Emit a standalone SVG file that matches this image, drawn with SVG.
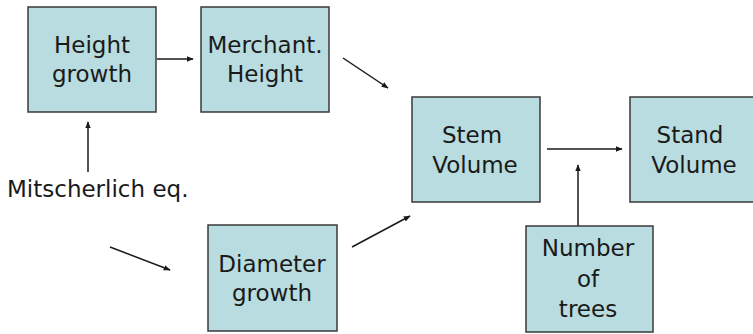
<svg xmlns="http://www.w3.org/2000/svg" width="753" height="334" viewBox="0 0 753 334">
<style>
.box{fill:#b8dcdf;stroke:#3a3a3a;stroke-width:1.5}
.t{font-family:"DejaVu Sans","Verdana",sans-serif;font-size:23px;fill:#1a1a1a;text-anchor:middle}
.c{stroke:#1a1a1a;stroke-width:1.5;fill:none;marker-end:url(#ah)}
</style>
<defs>
<marker id="ah" viewBox="0 0 10 10" refX="9" refY="5" markerWidth="7" markerHeight="7" markerUnits="userSpaceOnUse" orient="auto">
<path d="M0,1 L10,5 L0,9 z" fill="#1a1a1a"/>
</marker>
</defs>
<rect width="753" height="334" fill="#ffffff"/>
<g id="connectors">
<line class="c" x1="157" y1="59" x2="193" y2="59"/>
<line class="c" x1="343" y1="58" x2="388" y2="88"/>
<line class="c" x1="88" y1="172" x2="88" y2="122"/>
<line class="c" x1="110" y1="247" x2="170" y2="270"/>
<line class="c" x1="352" y1="247" x2="410" y2="216"/>
<line class="c" x1="547" y1="149" x2="622" y2="149"/>
<line class="c" x1="578" y1="226" x2="578" y2="165"/>
</g>
<g id="height-growth">
<rect class="box" x="28" y="7" width="128" height="105"/>
<text class="t" x="92" y="53">Height</text>
<text class="t" x="92" y="82">growth</text>
</g>
<g id="merchant-height">
<rect class="box" x="201" y="7" width="128" height="105"/>
<text class="t" x="265" y="53">Merchant.</text>
<text class="t" x="265" y="82">Height</text>
</g>
<g id="stem-volume">
<rect class="box" x="412" y="97" width="128" height="105"/>
<text class="t" x="472" y="143">Stem</text>
<text class="t" x="475" y="173">Volume</text>
</g>
<g id="stand-volume">
<rect class="box" x="630" y="97" width="128" height="105"/>
<text class="t" x="690" y="143">Stand</text>
<text class="t" x="694" y="173">Volume</text>
</g>
<g id="mitscherlich">
<text class="t" x="7" y="197" style="text-anchor:start">Mitscherlich eq.</text>
</g>
<g id="diameter-growth">
<rect class="box" x="208" y="225" width="129" height="106"/>
<text class="t" x="272" y="272">Diameter</text>
<text class="t" x="272" y="301">growth</text>
</g>
<g id="number-of-trees">
<rect class="box" x="526" y="226" width="127" height="106"/>
<text class="t" x="588" y="256">Number</text>
<text class="t" x="588" y="287">of</text>
<text class="t" x="588" y="317">trees</text>
</g>
</svg>
